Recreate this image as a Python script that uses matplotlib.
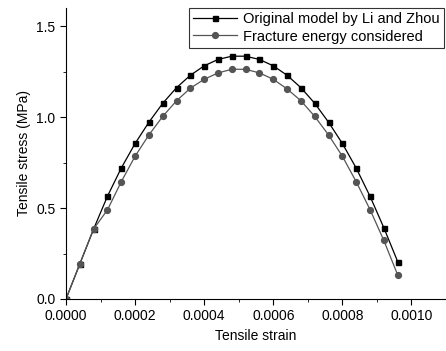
import matplotlib
matplotlib.use("Agg")
import matplotlib.pyplot as plt
from matplotlib.ticker import MultipleLocator

plt.rcParams['font.family'] = ['Liberation Sans', 'DejaVu Sans']

strain = [0.0, 0.00004, 0.00008, 0.00012, 0.00016, 0.0002, 0.00024, 0.00028,
          0.00032, 0.00036, 0.0004, 0.00044, 0.00048, 0.00052, 0.00056, 0.0006,
          0.00064, 0.00068, 0.00072, 0.00076, 0.0008, 0.00084, 0.00088, 0.00092,
          0.00096]
stress_li_zhou = [0.0, 0.193, 0.385, 0.565, 0.72, 0.855, 0.972, 1.076, 1.162,
                  1.230, 1.282, 1.317, 1.335, 1.335, 1.317, 1.282, 1.230, 1.162,
                  1.076, 0.972, 0.855, 0.72, 0.565, 0.392, 0.206]
stress_fracture = [0.0, 0.193, 0.385, 0.49, 0.645, 0.785, 0.902, 1.004, 1.090,
                   1.159, 1.208, 1.243, 1.263, 1.263, 1.243, 1.208, 1.155, 1.090,
                   1.004, 0.902, 0.785, 0.645, 0.492, 0.322, 0.133]

fig = plt.figure(figsize=(4.46, 3.51), dpi=100)
ax = fig.add_axes([66 / 446, 52 / 351, 380 / 446, 291 / 351])

ax.plot(strain, stress_li_zhou, color='black', marker='s', markersize=3.6,
        linewidth=0.9, label="Original model by Li and Zhou")
ax.plot(strain, stress_fracture, color='#555555', marker='o', markersize=4.2,
        linewidth=0.9, label="Fracture energy considered")

ax.set_xlim(0, 0.0011)
ax.set_ylim(0, 1.6)
ax.xaxis.set_major_locator(MultipleLocator(0.0002))
ax.xaxis.set_minor_locator(MultipleLocator(0.0001))
ax.yaxis.set_major_locator(MultipleLocator(0.5))
ax.yaxis.set_minor_locator(MultipleLocator(0.25))
ax.xaxis.set_major_formatter(plt.FuncFormatter(lambda v, p: f"{v:.4f}"))
ax.yaxis.set_major_formatter(plt.FuncFormatter(lambda v, p: f"{v:.1f}"))
ax.tick_params(which='both', direction='out', labelsize=10)
ax.tick_params(which='major', length=4)
ax.tick_params(which='minor', length=2.5)

ax.spines['top'].set_visible(False)
ax.spines['right'].set_visible(False)

ax.set_xlabel("Tensile strain", fontsize=10)
ax.set_ylabel("Tensile stress (MPa)", fontsize=10)

leg = fig.legend(loc='upper left', bbox_to_anchor=(189 / 446, 1 - 8 / 351),
                 fontsize=10.5, frameon=True, fancybox=False, edgecolor='black',
                 borderaxespad=0, handlelength=3.0, handletextpad=0.4,
                 labelspacing=0.22, borderpad=0.3)
leg.get_frame().set_linewidth(0.8)

fig.savefig("out.png", dpi=100)
